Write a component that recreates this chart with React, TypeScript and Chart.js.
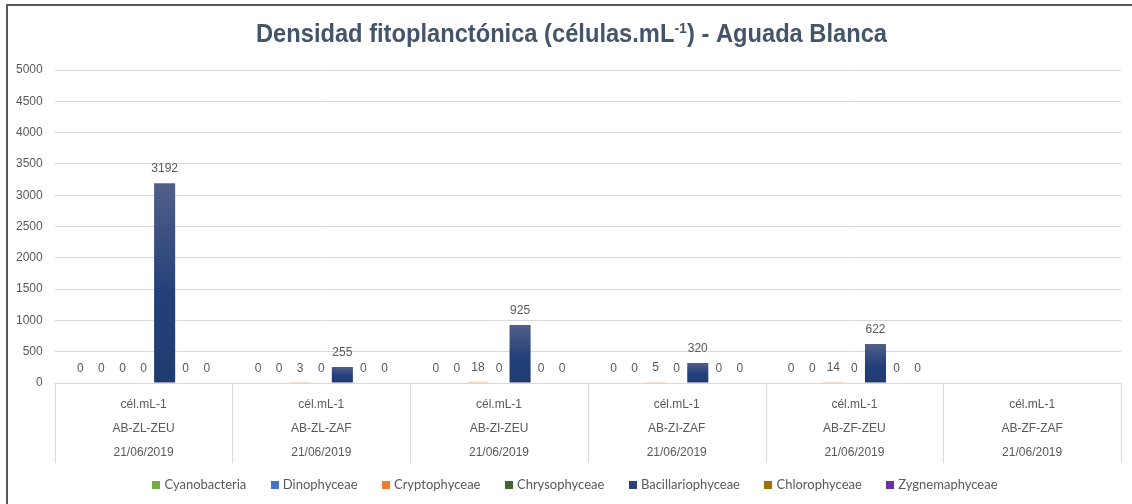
import React, { useEffect, useRef } from "react";
import { Chart, registerables } from "chart.js";

Chart.register(...registerables);

// ---- data ----
const categories = ["AB-ZL-ZEU", "AB-ZL-ZAF", "AB-ZI-ZEU", "AB-ZI-ZAF", "AB-ZF-ZEU", "AB-ZF-ZAF"];
const unitLabel = "cél.mL-1";
const sampleDate = "21/06/2019";

const seriesNames = [
  "Cyanobacteria",
  "Dinophyceae",
  "Cryptophyceae",
  "Chrysophyceae",
  "Bacillariophyceae",
  "Chlorophyceae",
  "Zygnemaphyceae",
];

const cyanobacteria = [0, 0, 0, 0, 0, null];
const dinophyceae = [0, 0, 0, 0, 0, null];
const cryptophyceae = [0, 3, 18, 5, 14, null];
const chrysophyceae = [0, 0, 0, 0, 0, null];
const bacillariophyceae = [3192, 255, 925, 320, 622, null];
const chlorophyceae = [0, 0, 0, 0, 0, null];
const zygnemaphyceae = [0, 0, 0, 0, 0, null];

const yMin = 0;
const yMax = 5000;
const yStep = 500;

const titleMain = "Densidad fitoplanctónica (células.mL";
const titleSup = "-1";
const titleTail = ") - Aguada Blanca";

// ---- styles ----
const seriesColors = ["#70AD47", "#4472C4", "#ED7D31", "#43682B", "#2A4275", "#9E7000", "#7030A0"];
const gradientStops: (string[] | null)[] = [
  null,
  null,
  ["#F8CBAD", "#F4B183", "#F4B183"],
  null,
  ["#515F88", "#24407A", "#1F3B70"],
  null,
  null,
];

const GRAY = "#595959";
const GRID = "#D9D9D9";
const ARIAL = '"Liberation Sans", Arial, sans-serif';
const LEGEND_FONT = '13px Lato, "Open Sans", sans-serif';
const SEPARATOR_DEPTH = 80;

function makeFill(base: string, stops: string[] | null) {
  return (ctx: any) => {
    if (!stops || ctx.type !== "data") return base;
    const chart = ctx.chart;
    const y = chart.scales && chart.scales.y;
    if (!y || ctx.raw == null) return base;
    const top = y.getPixelForValue(ctx.raw);
    const bottom = y.getPixelForValue(0);
    if (!isFinite(top) || !isFinite(bottom) || bottom - top < 0.5) return base;
    const g = chart.ctx.createLinearGradient(0, top, 0, bottom);
    g.addColorStop(0, stops[0]);
    g.addColorStop(0.55, stops[1]);
    g.addColorStop(1, stops[2]);
    return g;
  };
}

const valueLabels = {
  id: "valueLabels",
  afterDatasetsDraw(chart: any) {
    const ctx = chart.ctx;
    ctx.save();
    ctx.font = `12px ${ARIAL}`;
    ctx.fillStyle = GRAY;
    ctx.textAlign = "center";
    ctx.textBaseline = "middle";
    chart.data.datasets.forEach((ds: any, i: number) => {
      const meta = chart.getDatasetMeta(i);
      if (meta.hidden) return;
      meta.data.forEach((el: any, j: number) => {
        const v = ds.data[j];
        if (v == null) return;
        ctx.fillText(String(v), el.x, el.y - 14.5);
      });
    });
    ctx.restore();
  },
};

const categorySeparators = {
  id: "categorySeparators",
  afterDraw(chart: any) {
    const x = chart.scales.x;
    const n = chart.data.labels.length;
    if (!x || !n) return;
    const ctx = chart.ctx;
    const half = (x.right - x.left) / n / 2;
    ctx.save();
    ctx.strokeStyle = GRID;
    ctx.lineWidth = 1;
    ctx.beginPath();
    for (let i = 0; i <= n; i++) {
      const px = i < n ? x.getPixelForTick(i) - half : x.getPixelForTick(n - 1) + half;
      const xx = Math.round(px) + 0.5;
      ctx.moveTo(xx, x.top);
      ctx.lineTo(xx, x.top + SEPARATOR_DEPTH);
    }
    ctx.stroke();
    ctx.restore();
  },
};

const bottomLegend = {
  id: "bottomLegend",
  afterDraw(chart: any) {
    const ctx = chart.ctx;
    const box = 8;
    const textGap = 4;
    const itemGap = 24.5;
    const cy = chart.height - 19;
    ctx.save();
    ctx.font = LEGEND_FONT;
    const items = chart.data.datasets.map((ds: any, i: number) => ({
      text: ds.label,
      color: seriesColors[i],
      w: ctx.measureText(ds.label).width,
    }));
    const total =
      items.reduce((s: number, it: any) => s + box + textGap + it.w, 0) + itemGap * (items.length - 1);
    let x = chart.width / 2 + 9 - total / 2;
    ctx.textBaseline = "middle";
    ctx.textAlign = "left";
    items.forEach((it: any) => {
      ctx.fillStyle = it.color;
      ctx.fillRect(Math.round(x), Math.round(cy - box / 2), box, box);
      ctx.fillStyle = GRAY;
      ctx.fillText(it.text, x + box + textGap, cy);
      x += box + textGap + it.w + itemGap;
    });
    ctx.restore();
  },
};

const titlePlugin = {
  id: "supTitle",
  afterDraw(chart: any) {
    const ctx = chart.ctx;
    ctx.save();
    const big = `bold 25px ${ARIAL}`;
    const small = `bold 15px ${ARIAL}`;
    ctx.font = big;
    const w1 = ctx.measureText(titleMain).width;
    const w3 = ctx.measureText(titleTail).width;
    ctx.font = small;
    const w2 = ctx.measureText(titleSup).width;
    const total = w1 + w2 + w3;
    const s = 631 / total;
    ctx.translate(chart.width / 2 + 5.5, 33);
    ctx.scale(s, 1);
    ctx.fillStyle = "#44546A";
    ctx.textBaseline = "alphabetic";
    ctx.textAlign = "left";
    let x = -total / 2;
    const base = 9;
    ctx.font = big;
    ctx.fillText(titleMain, x, base);
    x += w1;
    ctx.font = small;
    ctx.fillText(titleSup, x, base - 9);
    x += w2;
    ctx.font = big;
    ctx.fillText(titleTail, x, base);
    ctx.restore();
  },
};

export default function App() {
  const canvasRef = useRef<HTMLCanvasElement | null>(null);

  useEffect(() => {
    const canvas = canvasRef.current;
    if (!canvas) return;
    const seriesData = [
      cyanobacteria,
      dinophyceae,
      cryptophyceae,
      chrysophyceae,
      bacillariophyceae,
      chlorophyceae,
      zygnemaphyceae,
    ];
    const chart = new Chart(canvas, {
      type: "bar",
      data: {
        labels: categories.map((c) => [unitLabel, c, sampleDate]),
        datasets: seriesNames.map((name, i) => ({
          label: name,
          data: seriesData[i],
          backgroundColor: makeFill(seriesColors[i], gradientStops[i]),
          borderWidth: 0,
          barPercentage: 1,
          categoryPercentage: 0.83,
        })),
      },
      options: {
        responsive: true,
        maintainAspectRatio: false,
        animation: false,
        layout: { padding: { top: 70, left: 4, right: 11, bottom: 29 } },
        plugins: {
          title: { display: false },
          tooltip: { enabled: false },
          legend: { display: false },
        },
        scales: {
          x: {
            offset: true,
            grid: { display: false, drawTicks: false },
            border: { display: true, color: GRID },
            ticks: {
              color: GRAY,
              padding: 10,
              maxRotation: 0,
              autoSkip: false,
              font: { family: ARIAL, size: 12, lineHeight: 2 },
            },
          },
          y: {
            min: yMin,
            max: yMax,
            grid: { color: GRID, drawTicks: false },
            border: { display: false },
            ticks: {
              stepSize: yStep,
              color: GRAY,
              padding: 12,
              font: { family: ARIAL, size: 12 },
              callback: (v: any) => String(v),
            },
          },
        },
      },
      plugins: [valueLabels, categorySeparators, bottomLegend, titlePlugin],
    });
    return () => chart.destroy();
  }, []);

  return (
    <>
      <div
        style={{
          position: "fixed",
          left: 6,
          top: 4,
          width: 1300,
          height: 700,
          border: "2px solid #595959",
          boxSizing: "border-box",
          pointerEvents: "none",
        }}
      />
      <div style={{ position: "fixed", left: 0, top: 0, width: 1132, height: 504 }}>
        <canvas ref={canvasRef} />
      </div>
    </>
  );
}
